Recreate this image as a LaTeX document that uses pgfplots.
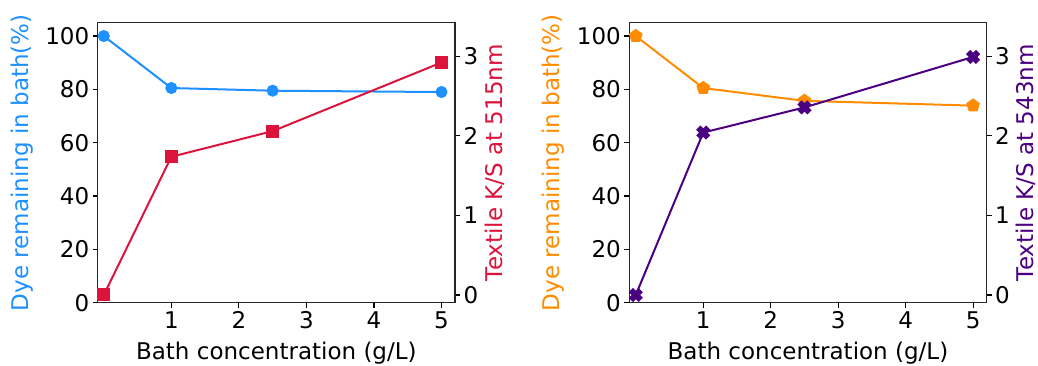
\documentclass[border=0pt]{standalone}
\usepackage{pgfplots}
\pgfplotsset{compat=1.18}
\usepackage{fontspec}
\setmainfont{DejaVu Sans}
\definecolor{cblue}{RGB}{30,144,255}
\definecolor{cred}{RGB}{220,20,60}
\definecolor{corange}{RGB}{255,140,0}
\definecolor{cpurple}{RGB}{75,0,130}
\pgfdeclareplotmark{fX}{%
  \pgftransformrotate{45}%
  \pgfpathmoveto{\pgfqpoint{-0.333\pgfplotmarksize}{-\pgfplotmarksize}}%
  \pgfpathlineto{\pgfqpoint{-0.333\pgfplotmarksize}{-0.333\pgfplotmarksize}}%
  \pgfpathlineto{\pgfqpoint{-\pgfplotmarksize}{-0.333\pgfplotmarksize}}%
  \pgfpathlineto{\pgfqpoint{-\pgfplotmarksize}{0.333\pgfplotmarksize}}%
  \pgfpathlineto{\pgfqpoint{-0.333\pgfplotmarksize}{0.333\pgfplotmarksize}}%
  \pgfpathlineto{\pgfqpoint{-0.333\pgfplotmarksize}{\pgfplotmarksize}}%
  \pgfpathlineto{\pgfqpoint{0.333\pgfplotmarksize}{\pgfplotmarksize}}%
  \pgfpathlineto{\pgfqpoint{0.333\pgfplotmarksize}{0.333\pgfplotmarksize}}%
  \pgfpathlineto{\pgfqpoint{\pgfplotmarksize}{0.333\pgfplotmarksize}}%
  \pgfpathlineto{\pgfqpoint{\pgfplotmarksize}{-0.333\pgfplotmarksize}}%
  \pgfpathlineto{\pgfqpoint{0.333\pgfplotmarksize}{-0.333\pgfplotmarksize}}%
  \pgfpathlineto{\pgfqpoint{0.333\pgfplotmarksize}{-\pgfplotmarksize}}%
  \pgfpathclose
  \pgfusepathqfillstroke
}
\pgfplotsset{
  base/.style={
    scale only axis, width=357.3pt, height=280pt, anchor=south west,
    xmin=-0.09, xmax=5.2, xtick={1,2,3,4,5},
    tick align=outside, major tick length=5pt,
    every tick/.style={black, line width=1.1pt},
    axis line style={line width=1.1pt, black!85},
    tick label style={font=\fontsize{23}{26}\selectfont},
    label style={font=\fontsize{23}{26}\selectfont},
    /pgf/number format/assume math mode=true,
    clip=false,
  },
  lax/.style={base, ymin=0, ymax=105, ytick={0,20,40,60,80,100},
    ytick pos=left, xtick pos=bottom,
    ylabel style={at={(axis description cs:-0.212,0.5)}, anchor=center, rotate=0},
    xlabel style={at={(axis description cs:0.5,-0.18)}, anchor=center},
    xlabel={Bath concentration (g/L)}},
  rax/.style={base, ymin=-0.097, ymax=3.42, ytick={0,1,2,3},
    axis y line*=right, axis x line=none,
    ylabel style={at={(axis description cs:1.111,0.5)}, anchor=center, rotate=0}},
  ln/.style={line width=2pt, mark options={solid}},
}
\begin{document}
\begin{tikzpicture}
\useasboundingbox (0,0) rectangle (1038pt,365pt);
% ---- left panel ----
\begin{axis}[lax, at={(97.7pt,62.3pt)}, ylabel={\color{cblue}Dye remaining in bath(\%)}]
\addplot[ln, cblue, mark=*, mark size=5pt] coordinates {(0,100) (1,80.5) (2.5,79.5) (5,79.0)};
\end{axis}
\begin{axis}[rax, at={(97.7pt,62.3pt)}, ylabel={\color{cred}Textile K/S at 515nm}]
\addplot[ln, cred, mark=square*, mark size=5.5pt] coordinates {(0,0) (1,1.736) (2.5,2.058) (5,2.92)};
\end{axis}
% ---- right panel ----
\begin{axis}[lax, at={(629.3pt,62.3pt)}, xmin=-0.096, ylabel={\color{corange}Dye remaining in bath(\%)}]
\addplot[ln, corange, mark=pentagon*, mark size=6pt] coordinates {(0,100) (1,80.5) (2.5,75.7) (5,73.9)};
\end{axis}
\begin{axis}[rax, at={(629.3pt,62.3pt)}, xmin=-0.096, ylabel={\color{cpurple}Textile K/S at 543nm}]
\addplot[ln, cpurple, mark=fX, mark size=6pt] coordinates {(0,0) (1,2.04) (2.5,2.356) (5,2.99)};
\end{axis}
\end{tikzpicture}
\end{document}
